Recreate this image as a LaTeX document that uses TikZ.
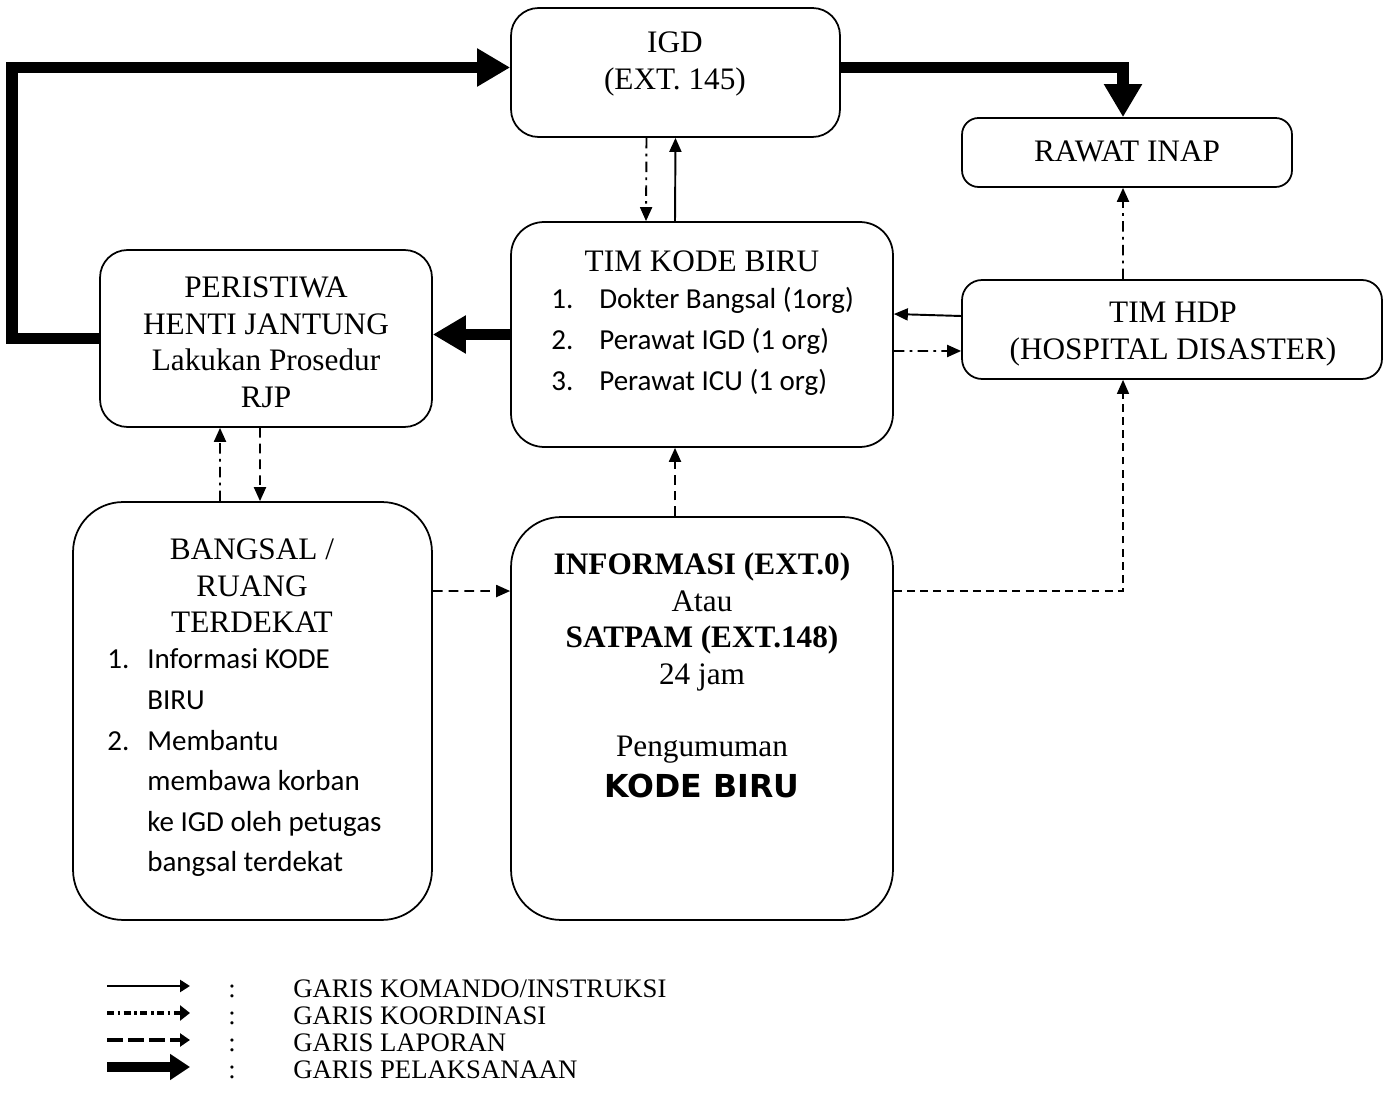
\documentclass[tikz,border=0pt]{standalone}
\usepackage{fontspec}
\setmainfont{Liberation Serif}
\newfontfamily\calibri{Carlito}
\newfontfamily\tebal{DejaVu Sans}
\usetikzlibrary{arrows.meta}

\newcommand{\baris}[1]{\begin{tabular}[t]{@{}c@{}}#1\end{tabular}}
\newcommand{\senarai}[2]{\begin{tabular}[t]{@{}p{#1}@{}l@{}}#2\end{tabular}}

\tikzset{
  kotak/.style={draw, line width=1pt, rounded corners=#1, inner sep=0pt},
  judul/.style={anchor=base, inner sep=0pt, font=\fontsize{17.8}{20.7}\selectfont},
  daftar/.style={anchor=base west, inner sep=0pt, font=\calibri\fontsize{16.5}{23.1}\selectfont},
  komando/.style={line width=1.1pt, -{Triangle[length=0.28cm,width=0.24cm]}},
  koordinasi/.style={komando, dash pattern=on 6pt off 3pt on 1.5pt off 3pt},
  laporan/.style={komando, dash pattern=on 5.5pt off 3.5pt},
  pelaksanaan/.style={line width=6.8pt, -{Triangle[length=0.66cm,width=0.72cm]}},
  keterangan/.style={anchor=base west, inner sep=0pt, font=\fontsize{15.2}{16}\selectfont}
}

\begin{document}
\begin{tikzpicture}[x=0.02cm, y=-0.02cm]
\useasboundingbox (0,0) rectangle (1390,1097);

% kotak
\node[kotak=0.55cm, minimum width=6.58cm, minimum height=2.58cm] (igd) at (675.5,72.5) {};
\node[kotak=0.33cm, minimum width=6.6cm, minimum height=1.38cm] (rawat) at (1127,152.5) {};
\node[kotak=0.66cm, minimum width=7.64cm, minimum height=4.5cm] (tkb) at (702,334.5) {};
\node[kotak=0.55cm, minimum width=6.64cm, minimum height=3.54cm] (peri) at (266,338.5) {};
\node[kotak=0.4cm, minimum width=8.4cm, minimum height=1.98cm] (hdp) at (1172,329.5) {};
\node[kotak=1cm, minimum width=7.18cm, minimum height=8.36cm] (bangsal) at (252.5,711) {};
\node[kotak=1cm, minimum width=7.64cm, minimum height=8.06cm] (info) at (702,718.5) {};

% isi kotak
\node[judul] (igdteks) at (675,53) {\baris{IGD\\(EXT. 145)}};
\node[judul] (rawatteks) at (1127,162) {RAWAT INAP};
\node[judul] (hdpteks) at (1173,323) {\baris{TIM HDP\\(HOSPITAL DISASTER)}};
\node[judul] (periteks) at (266,298) {\baris{PERISTIWA\\HENTI JANTUNG\\Lakukan Prosedur\\RJP}};
\node[judul] (tkbteks) at (702,272) {TIM KODE BIRU};
\node[daftar] (tkbdaftar) at (551,309) {\senarai{0.96cm}{1. & Dokter Bangsal (1org)\\ 2. & Perawat IGD (1 org)\\ 3. & Perawat ICU (1 org)}};
\node[judul] (bangsalteks) at (252,560) {\baris{BANGSAL /\\RUANG\\TERDEKAT}};
\node[daftar] (bangsaldaftar) at (107,669) {\senarai{0.8cm}{1. & Informasi KODE\\ & BIRU\\ 2. & Membantu\\ & membawa korban\\ & ke IGD oleh petugas\\ & bangsal terdekat}};
\node[judul] (infoteks) at (702,575) {\baris{\textbf{INFORMASI (EXT.0)}\\Atau\\\textbf{SATPAM (EXT.148)}\\24 jam\\ \\Pengumuman\\[2.6pt]{\tebal\bfseries\fontsize{18}{20}\selectfont KODE BIRU}}};

% garis pelaksanaan
\draw[pelaksanaan] (peri.west) -- ++(-87,0) |- ([yshift=0.1cm]igd.west);
\draw[pelaksanaan] ([yshift=0.1cm]igd.east) -| ([xshift=-0.08cm]rawat.north);
\draw[pelaksanaan] (tkb.west) -- (tkb.west -| peri.east);

% garis komando
\draw[komando] ([xshift=-0.54cm]tkb.north) -- (igd.south);
\draw[komando] ([yshift=0.27cm]hdp.west) -- ([yshift=0.41cm]tkb.east);

% garis koordinasi
\draw[koordinasi] ([xshift=-0.58cm]igd.south) -- ([xshift=-1.12cm]tkb.north);
\draw[koordinasi] ([yshift=-0.33cm]tkb.east) -- ([yshift=-0.43cm]hdp.west);
\draw[koordinasi] ([xshift=-0.98cm]hdp.north) -- ([xshift=-0.08cm]rawat.south);
\draw[koordinasi] ([xshift=-0.65cm]bangsal.north) -- ([xshift=-0.92cm]peri.south);

% garis laporan
\draw[laporan] ([xshift=-0.12cm]peri.south) -- ([xshift=0.15cm]bangsal.north);
\draw[laporan] ([yshift=2.4cm]bangsal.east) -- ([yshift=2.55cm]info.west);
\draw[laporan] ([xshift=-0.54cm]info.north) -- ([xshift=-0.54cm]tkb.south);
\draw[laporan, line width=0.8pt, dash pattern=on 4.5pt off 3pt] ([yshift=2.55cm]info.east) -| ([xshift=-0.98cm]hdp.south);

% keterangan
\coordinate (k1a) at (107,986);
\coordinate (k1b) at (190,986);
\coordinate (k2a) at (107,1013);
\coordinate (k2b) at (190,1013);
\coordinate (k3a) at (107,1040);
\coordinate (k3b) at (190,1040);
\coordinate (k4a) at (107,1067);
\coordinate (k4b) at (190,1067);
\draw[komando, line width=1.4pt, -{Triangle[length=0.2cm,width=0.24cm]}] (k1a) -- (k1b);
\draw[koordinasi, line width=2.5pt, dash pattern=on 4pt off 2pt on 1.5pt off 2pt, -{Triangle[length=0.2cm,width=0.3cm]}] (k2a) -- (k2b);
\draw[laporan, line width=1.8pt, dash pattern=on 9pt off 3pt, -{Triangle[length=0.2cm,width=0.26cm]}] (k3a) -- (k3b);
\draw[pelaksanaan, line width=5.5pt, -{Triangle[length=0.4cm,width=0.5cm]}] (k4a) -- (k4b);
\node[keterangan] (t1a) at (228,997) {:};
\node[keterangan] (t1b) at (293,997) {GARIS KOMANDO/INSTRUKSI};
\node[keterangan] (t2a) at (228,1024) {:};
\node[keterangan] (t2b) at (293,1024) {GARIS KOORDINASI};
\node[keterangan] (t3a) at (228,1051) {:};
\node[keterangan] (t3b) at (293,1051) {GARIS LAPORAN};
\node[keterangan] (t4a) at (228,1078) {:};
\node[keterangan] (t4b) at (293,1078) {GARIS PELAKSANAAN};

\end{tikzpicture}
\end{document}
